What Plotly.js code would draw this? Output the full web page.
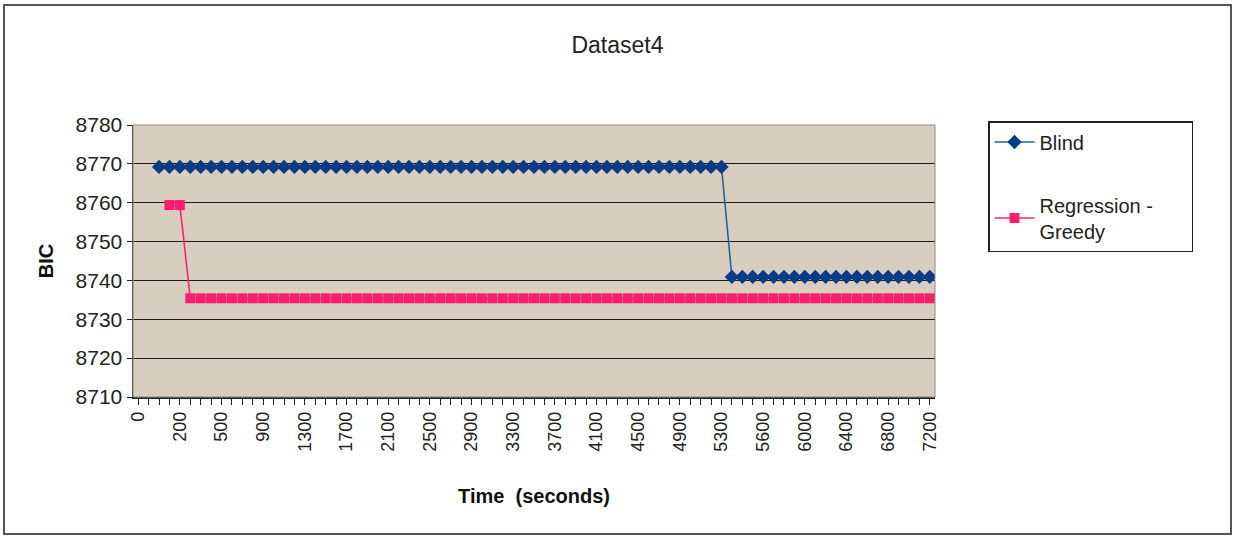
<!DOCTYPE html>
<html>
<head>
<meta charset="utf-8">
<script src="https://cdn.plot.ly/plotly-3.0.1.min.js"></script>
<style>
  html, body { margin: 0; padding: 0; background: #ffffff; }
  #chart { width: 1235px; height: 537px; }
</style>
</head>
<body>
<div id="chart"></div>
<script>
// Time categories (seconds), one per recorded step
const times = [
  0, 50, 100, 150, 200, 250, 300, 400, 500, 600,
  700, 800, 900, 1000, 1100, 1200, 1300, 1400, 1500, 1600,
  1700, 1800, 1900, 2000, 2100, 2200, 2300, 2400, 2500, 2600,
  2700, 2800, 2900, 3000, 3100, 3200, 3300, 3400, 3500, 3600,
  3700, 3800, 3900, 4000, 4100, 4200, 4300, 4400, 4500, 4600,
  4700, 4800, 4900, 5000, 5100, 5200, 5300, 5400, 5450, 5500,
  5600, 5700, 5800, 5900, 6000, 6100, 6200, 6300, 6400, 6500,
  6600, 6700, 6800, 6900, 7000, 7100, 7200
];

// Tick labels shown on the x axis
const xTickLabels = [0, 200, 500, 900, 1300, 1700, 2100, 2500, 2900, 3300,
  3700, 4100, 4500, 4900, 5300, 5600, 6000, 6400, 6800, 7200];

// BIC values for the "Blind" search
const blind = [
  null, null, 8769.2, 8769.2, 8769.2, 8769.2, 8769.2, 8769.2, 8769.2, 8769.2,
  8769.2, 8769.2, 8769.2, 8769.2, 8769.2, 8769.2, 8769.2, 8769.2, 8769.2, 8769.2,
  8769.2, 8769.2, 8769.2, 8769.2, 8769.2, 8769.2, 8769.2, 8769.2, 8769.2, 8769.2,
  8769.2, 8769.2, 8769.2, 8769.2, 8769.2, 8769.2, 8769.2, 8769.2, 8769.2, 8769.2,
  8769.2, 8769.2, 8769.2, 8769.2, 8769.2, 8769.2, 8769.2, 8769.2, 8769.2, 8769.2,
  8769.2, 8769.2, 8769.2, 8769.2, 8769.2, 8769.2, 8769.2, 8740.9, 8740.9, 8740.9,
  8740.9, 8740.9, 8740.9, 8740.9, 8740.9, 8740.9, 8740.9, 8740.9, 8740.9, 8740.9,
  8740.9, 8740.9, 8740.9, 8740.9, 8740.9, 8740.9, 8740.9
];

// BIC values for "Regression - Greedy"
const regression = [
  null, null, null, 8759.4, 8759.4, 8735.4, 8735.4, 8735.4, 8735.4, 8735.4,
  8735.4, 8735.4, 8735.4, 8735.4, 8735.4, 8735.4, 8735.4, 8735.4, 8735.4, 8735.4,
  8735.4, 8735.4, 8735.4, 8735.4, 8735.4, 8735.4, 8735.4, 8735.4, 8735.4, 8735.4,
  8735.4, 8735.4, 8735.4, 8735.4, 8735.4, 8735.4, 8735.4, 8735.4, 8735.4, 8735.4,
  8735.4, 8735.4, 8735.4, 8735.4, 8735.4, 8735.4, 8735.4, 8735.4, 8735.4, 8735.4,
  8735.4, 8735.4, 8735.4, 8735.4, 8735.4, 8735.4, 8735.4, 8735.4, 8735.4, 8735.4,
  8735.4, 8735.4, 8735.4, 8735.4, 8735.4, 8735.4, 8735.4, 8735.4, 8735.4, 8735.4,
  8735.4, 8735.4, 8735.4, 8735.4, 8735.4, 8735.4, 8735.4
];

const FONT = 'Liberation Sans, Arial, sans-serif';

// Every category gets a tick; only the listed ones get text
const tickText = times.map(t => xTickLabels.indexOf(t) >= 0 ? String(t) : '');

const traces = [
  {
    x: times, y: blind, name: 'Blind', type: 'scatter', mode: 'lines+markers',
    line: { color: '#24639a', width: 1.6 },
    marker: { symbol: 'diamond', size: 11, color: '#0b3a86', line: { width: 0 } },
    connectgaps: false, legendgroup: 'a'
  },
  {
    x: times, y: regression, name: 'Regression -&nbsp;&nbsp;&nbsp;&nbsp;&nbsp;&nbsp;<br>Greedy', type: 'scatter', mode: 'lines+markers',
    line: { color: '#f8246f', width: 1.6 },
    marker: { symbol: 'square', size: 10, color: '#fa1f6c', line: { width: 0 } },
    connectgaps: false, legendgroup: 'b'
  }
];

const L = 133, R = 935, T = 125, B = 397, W = 1235, H = 537;
const pw = R - L, ph = B - T;
const px = v => (v - L) / pw;
const py = v => (B - v) / ph;

const layout = {
  width: W, height: H,
  margin: { l: L, r: W - R, t: T, b: H - B, pad: 0 },
  paper_bgcolor: '#ffffff',
  plot_bgcolor: '#d7cebf',
  font: { family: FONT, color: '#222222' },
  title: {
    text: 'Dataset4',
    font: { family: FONT, size: 23, color: '#222222' },
    x: 0.5, xref: 'container', xanchor: 'center',
    y: 1 - 45 / H, yref: 'container', yanchor: 'middle'
  },
  showlegend: true,
  legend: {
    x: px(988), y: py(121), xanchor: 'left', yanchor: 'top',
    bordercolor: '#222222', borderwidth: 1.5, bgcolor: '#ffffff',
    font: { family: FONT, size: 20, color: '#222222' },
    tracegroupgap: 34, traceorder: 'grouped',
    itemwidth: 40
  },
  xaxis: {
    type: 'category',
    range: [-0.5, times.length - 0.5],
    tickmode: 'array', tickvals: times, ticktext: tickText,
    tickangle: -90,
    tickfont: { family: FONT, size: 18, color: '#222222' },
    ticks: 'outside', ticklen: 6, tickcolor: '#222222', tickwidth: 1,
    showline: true, linecolor: '#222222', linewidth: 1.5,
    showgrid: false, zeroline: false,
    title: { text: '<b>Time  (seconds)</b>', font: { family: FONT, size: 20, color: '#111111' }, standoff: 38 },
    fixedrange: true
  },
  yaxis: {
    range: [8710, 8780], dtick: 10, tick0: 8710,
    tickfont: { family: FONT, size: 21, color: '#222222' },
    ticks: 'outside', ticklen: 5, tickcolor: '#222222',
    showline: true, linecolor: '#222222', linewidth: 1.5,
    showgrid: true, gridcolor: '#1a1a1a', gridwidth: 1,
    zeroline: false,
    title: { text: '<b>BIC</b>', font: { family: FONT, size: 20, color: '#111111' }, standoff: 16 },
    fixedrange: true
  },
  shapes: [
    { type: 'rect', xref: 'paper', yref: 'paper', x0: 0, x1: 1, y0: 0, y1: 1,
      line: { color: '#8a8a8a', width: 1 }, layer: 'above' },
    { type: 'rect', xref: 'paper', yref: 'paper',
      x0: px(4), x1: px(1231), y0: py(534), y1: py(5),
      line: { color: '#555555', width: 2 } }
  ]
};

Plotly.newPlot('chart', traces, layout, { displayModeBar: false, staticPlot: true });
</script>
</body>
</html>
